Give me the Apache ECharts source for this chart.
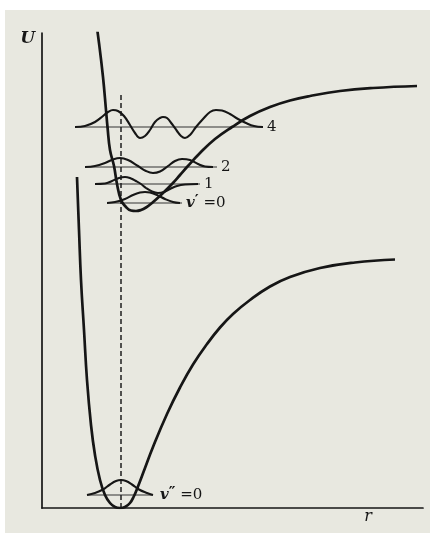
<!DOCTYPE html>
<html>
<head>
<meta charset="utf-8">
<script src="https://cdn.jsdelivr.net/npm/echarts@6/dist/echarts.min.js"></script>
<style>
  html, body { margin: 0; padding: 0; background: #ffffff; }
  #chart { width: 430px; height: 533px; }
</style>
</head>
<body>
<div id="chart"></div>
<script>
// Potential energy U(r) of a diatomic molecule: ground and excited electronic
// states with a few vibrational levels and their wavefunctions.
// Units are arbitrary: r runs 0..381, U runs 0..475.

// Ground-state potential curve, points [r, U]
const groundCurve = [
  [35, 331], [37, 278], [39, 228], [42, 178], [45, 128], [49, 83], [53, 53],
  [58, 28], [63, 13], [68, 5], [73, 1], [78, 0], [83, 1], [88, 5], [92, 12],
  [95, 19], [103, 40], [111, 61], [125, 94], [138, 120.5], [151, 143.5],
  [165, 164], [178, 180.5], [191, 194], [208, 208], [228, 221.5],
  [248, 231], [278, 240], [313, 245.5], [353, 248.5]
];

// Excited-state potential curve, points [r, U]
const excitedCurve = [
  [53, 494], [57, 465], [61, 431], [64, 398], [65.5, 381], [68, 358], [72, 342],
  [75, 324], [79, 308], [84, 301], [89, 297.5], [94, 297], [99, 298],
  [104, 300.5], [110, 305], [120, 314], [130, 324], [138, 333], [145, 341],
  [158, 355], [173, 369], [190, 381], [208, 392], [228, 401], [248, 407.5],
  [268, 412], [298, 417], [331, 420], [375, 422]
];

// Equilibrium separation (dashed vertical line)
const rEquilibrium = 79;
const rEquilibriumTop = 414;

// Vibrational levels: label, energy, extent in r
const levelNames = ['v″=0', 'v′=0', '1', '2', '4'];
const levelEnergy = [13, 305, 324, 341, 381];
const levelStart = [45, 65, 53, 43, 33];
const levelEnd = [111, 140, 158, 175, 221];

// Vibrational wavefunctions drawn on their levels, points [r, U]
const psiGround0 = [
  [45, 13], [53, 15], [61, 18.5], [68, 23.5], [74, 27], [79, 28], [84, 27],
  [90, 23.5], [97, 18.5], [105, 15], [111, 13]
];
const psiExcited0 = [
  [65, 305], [73, 306], [83, 309], [91, 313], [98, 315.5], [103, 316],
  [108, 315.5], [115, 313], [123, 309], [131, 306], [138, 305]
];
const psiExcited1 = [
  [53, 324], [63, 324.5], [70, 327], [77, 330], [83, 331], [89, 329.5],
  [94, 327], [99, 324], [104, 320], [110, 316.5], [116, 315], [122, 316],
  [128, 319], [135, 322], [143, 323.5], [156, 324]
];
const psiExcited2 = [
  [43, 341], [53, 342], [63, 345], [71, 348.5], [78, 350], [86, 348],
  [96, 342], [104, 337], [111, 335], [118, 336.5], [126, 342], [133, 347],
  [140, 349], [148, 348], [156, 344], [163, 341.5], [171, 341]
];
const psiExcited4 = [
  [33, 381], [43, 382], [53, 386], [61, 392], [66, 396], [71, 398], [76, 397],
  [82, 392], [88, 383], [93, 375], [98, 370], [103, 372], [108, 378],
  [113, 386], [118, 390], [121, 391], [125, 390], [130, 384], [135, 377],
  [139, 372], [143, 370], [148, 373], [154, 381], [161, 389], [168, 396],
  [174, 398], [180, 397.5], [188, 394], [196, 389], [204, 385], [212, 382],
  [221, 381]
];

const INK = '#161616';
const SERIF = '"DejaVu Serif", "Liberation Serif", serif';

function levelLabel(name) {
  const m = name.match(/^v(.)=(\d)$/);
  if (m) return '{v|v}{p|' + m[1] + '}{t| =' + m[2] + '}';
  return '{t|' + name + '}';
}

const labelRich = {
  v: { fontFamily: SERIF, fontStyle: 'italic', fontWeight: 'bold', fontSize: 15, color: INK },
  p: { fontFamily: SERIF, fontWeight: 'bold', fontSize: 15, color: INK, padding: [0, 0, 4, 0] },
  t: { fontFamily: SERIF, fontSize: 15, color: INK }
};

const series = [];

// Vibrational level lines with their labels
levelNames.forEach((name, i) => {
  series.push({
    type: 'line',
    data: [[levelStart[i], levelEnergy[i]], [levelEnd[i], levelEnergy[i]]],
    symbol: 'none',
    lineStyle: { color: '#333333', width: 1.1 },
    z: 3,
    silent: true,
    endLabel: {
      show: true,
      formatter: () => levelLabel(name),
      distance: i === 0 ? 7 : 4,
      rich: labelRich
    }
  });
});

// Wavefunctions
[psiGround0, psiExcited0, psiExcited1, psiExcited2, psiExcited4].forEach(psi => {
  series.push({
    type: 'line',
    data: psi,
    symbol: 'none',
    smooth: 0.4,
    lineStyle: { color: INK, width: 2.1 },
    z: 4,
    silent: true
  });
});

// Potential curves
[groundCurve, excitedCurve].forEach(curve => {
  series.push({
    type: 'line',
    data: curve,
    symbol: 'none',
    smooth: 0.45,
    lineStyle: { color: INK, width: 2.7 },
    z: 5,
    silent: true
  });
});

// Equilibrium separation
series.push({
  type: 'line',
  data: [[rEquilibrium, 0], [rEquilibrium, rEquilibriumTop]],
  symbol: 'none',
  lineStyle: { color: '#1e1e1e', width: 1.5, type: [5, 3] },
  z: 3,
  silent: true
});

const chart = echarts.init(document.getElementById('chart'), null, { renderer: 'canvas' });
chart.setOption({
  backgroundColor: '#e8e8e0',
  animation: false,
  graphic: [
    { type: 'rect', left: 0, top: 0, shape: { width: 430, height: 10 }, style: { fill: '#ffffff' }, z: 100 },
    { type: 'rect', left: 0, top: 0, shape: { width: 5, height: 533 }, style: { fill: '#ffffff' }, z: 100 }
  ],
  grid: { left: 42, top: 33, width: 381, height: 475 },
  xAxis: {
    type: 'value', min: 0, max: 381,
    name: 'r', nameLocation: 'end', nameGap: -55,
    nameTextStyle: {
      fontFamily: SERIF, fontStyle: 'italic', fontSize: 16, color: INK,
      align: 'center', verticalAlign: 'top', padding: [1, 0, 0, 0]
    },
    axisLine: { show: true, lineStyle: { color: INK, width: 1.7 } },
    axisTick: { show: false }, axisLabel: { show: false }, splitLine: { show: false }
  },
  yAxis: {
    type: 'value', min: 0, max: 475,
    name: 'U', nameLocation: 'end', nameGap: 3,
    nameTextStyle: {
      fontFamily: SERIF, fontStyle: 'italic', fontWeight: 'bold', fontSize: 17, color: INK,
      align: 'right', verticalAlign: 'top', padding: [0, 7, 0, 0]
    },
    axisLine: { show: true, lineStyle: { color: INK, width: 1.7 } },
    axisTick: { show: false }, axisLabel: { show: false }, splitLine: { show: false }
  },
  series: series
});
</script>
</body>
</html>
